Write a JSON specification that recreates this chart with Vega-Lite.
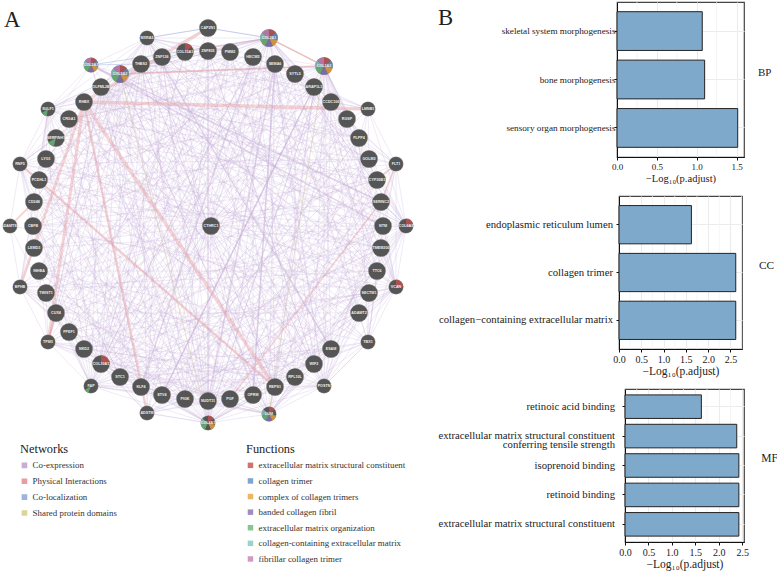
{"$schema":"https://vega.github.io/schema/vega-lite/v6.json","padding":{"left":0,"top":1,"right":0,"bottom":0},"background":"white","config":{"font":"Liberation Serif"},"datasets":{"nodes":[{"id":0,"name":"CAP2N1","x":208,"y":27,"g":"L"},{"id":1,"name":"ZNF835","x":208,"y":50,"g":"L"},{"id":2,"name":"PMM2","x":230,"y":51,"g":"L"},{"id":3,"name":"HECW2","x":253,"y":56,"g":"L"},{"id":4,"name":"COL3A1","x":269,"y":37,"g":"L"},{"id":5,"name":"SEMA6","x":275,"y":63,"g":"L"},{"id":6,"name":"SYTL5","x":295,"y":73,"g":"L"},{"id":7,"name":"ARAP1L1","x":314,"y":86,"g":"L"},{"id":8,"name":"COL1A2","x":324,"y":65,"g":"L"},{"id":9,"name":"CCDC106","x":331,"y":101,"g":"L"},{"id":10,"name":"RGSP","x":347,"y":118,"g":"L"},{"id":11,"name":"LMNB1","x":368,"y":108,"g":"S"},{"id":12,"name":"PLPP4","x":359,"y":137,"g":"L"},{"id":13,"name":"GOLM3","x":369,"y":158,"g":"L"},{"id":14,"name":"FLT1","x":396,"y":163,"g":"S"},{"id":15,"name":"CYP26B1","x":377,"y":179,"g":"L"},{"id":16,"name":"SERINC2","x":381,"y":201,"g":"L"},{"id":17,"name":"NTM","x":383,"y":225,"g":"L"},{"id":18,"name":"COL6A3","x":406,"y":225,"g":"S"},{"id":19,"name":"TMEM200","x":381,"y":247,"g":"L"},{"id":20,"name":"TTC6","x":377,"y":270,"g":"L"},{"id":21,"name":"VCAN","x":396,"y":286,"g":"S"},{"id":22,"name":"SECTM1","x":369,"y":292,"g":"L"},{"id":23,"name":"ADAMT2","x":359,"y":312,"g":"L"},{"id":24,"name":"TBX1","x":368,"y":341,"g":"S"},{"id":25,"name":"ESAM","x":331,"y":348,"g":"L"},{"id":26,"name":"WIF2","x":314,"y":363,"g":"L"},{"id":27,"name":"POSTN","x":324,"y":385,"g":"S"},{"id":28,"name":"RPL10L","x":295,"y":376,"g":"L"},{"id":29,"name":"REPS1","x":275,"y":386,"g":"L"},{"id":30,"name":"LUM","x":269,"y":413,"g":"S"},{"id":31,"name":"OPRM","x":253,"y":394,"g":"L"},{"id":32,"name":"PGF","x":230,"y":398,"g":"L"},{"id":33,"name":"NUDT11","x":208,"y":400,"g":"L"},{"id":34,"name":"COL4A1","x":208,"y":422,"g":"S"},{"id":35,"name":"PIGK","x":185,"y":398,"g":"L"},{"id":36,"name":"ETV4","x":162,"y":394,"g":"L"},{"id":37,"name":"ADSTM","x":147,"y":412,"g":"S"},{"id":38,"name":"KLF4","x":141,"y":386,"g":"L"},{"id":39,"name":"STC1","x":120,"y":376,"g":"L"},{"id":40,"name":"FAP","x":91,"y":385,"g":"S"},{"id":41,"name":"COL10A1","x":101,"y":363,"g":"L"},{"id":42,"name":"NKD2","x":84,"y":348,"g":"L"},{"id":43,"name":"PPEF1","x":69,"y":331,"g":"L"},{"id":44,"name":"TPM3","x":48,"y":341,"g":"S"},{"id":45,"name":"CUX4","x":56,"y":312,"g":"L"},{"id":46,"name":"TWIST1","x":46,"y":292,"g":"L"},{"id":47,"name":"BPHB","x":20,"y":286,"g":"S"},{"id":48,"name":"INHBA","x":39,"y":270,"g":"L"},{"id":49,"name":"LEMD3","x":34,"y":247,"g":"L"},{"id":50,"name":"CBFB","x":33,"y":225,"g":"L"},{"id":51,"name":"ADAMTSL","x":10,"y":225,"g":"S"},{"id":52,"name":"CD248","x":34,"y":201,"g":"L"},{"id":53,"name":"PCDHL1","x":39,"y":179,"g":"L"},{"id":54,"name":"RNF5","x":20,"y":163,"g":"S"},{"id":55,"name":"LYG1","x":46,"y":158,"g":"L"},{"id":56,"name":"SERPINH1","x":56,"y":137,"g":"L"},{"id":57,"name":"CRGA1","x":69,"y":118,"g":"L"},{"id":58,"name":"SULF1","x":48,"y":108,"g":"S"},{"id":59,"name":"RHBX","x":84,"y":101,"g":"L"},{"id":60,"name":"OLFML2B","x":101,"y":86,"g":"L"},{"id":61,"name":"COL5A3","x":91,"y":64,"g":"S"},{"id":62,"name":"COL5A2","x":120,"y":73,"g":"L"},{"id":63,"name":"THBS2","x":141,"y":63,"g":"L"},{"id":64,"name":"MXRA5","x":147,"y":37,"g":"S"},{"id":65,"name":"ZNF136","x":162,"y":56,"g":"L"},{"id":66,"name":"COL15A1","x":185,"y":51,"g":"L"},{"id":67,"name":"CTHRC1","x":211,"y":225,"g":"L"}],"funcs":[{"k":0,"f":"extracellular matrix structural constituent"},{"k":1,"f":"collagen trimer"},{"k":2,"f":"complex of collagen trimers"},{"k":3,"f":"banded collagen fibril"},{"k":4,"f":"extracellular matrix organization"},{"k":5,"f":"collagen-containing extracellular matrix"},{"k":6,"f":"fibrillar collagen trimer"}],"ce":[{"s":4,"t":[0,1,2,3,5,6,7,8,9,10,12,13,15,16,18,21,23,25,27,29,32,34,37,39,41,42,45,48,52,56,59,62,63,64,66]},{"s":8,"t":[4,6,9,10,12,13,15,16,17,18,20,21,22,23,25,26,27,30,32,34,36,39,41,43,46,49,53,57,60,62,64]},{"s":62,"t":[0,4,8,12,16,18,21,24,27,30,33,34,36,39,41,42,44,46,49,52,55,58,60,61,63,64]},{"s":34,"t":[0,1,3,6,8,10,13,16,18,21,23,25,26,27,28,29,30,31,32,33,35,36,37,38,39,40,41,42,43,45,48,50,53,56,59,61,63,65]},{"s":30,"t":[1,5,7,9,12,15,18,20,21,22,23,24,25,26,27,28,29,31,33,35,38,40,41,44,47,50,54,58,60,62,64]},{"s":40,"t":[0,2,5,7,11,14,17,19,22,25,28,31,33,36,38,39,41,42,43,45,48,51,54,57,60,63,66]},{"s":41,"t":[1,3,6,9,13,17,21,25,28,32,36,38,46,50,55,59,63,66]},{"s":27,"t":[2,5,9,11,14,16,18,19,21,23,24,25,26,28,29,31,36,39,44,48,52,57,61,65]},{"s":21,"t":[3,7,10,13,14,16,17,18,19,20,22,23,24,26,29,33,37,42,47,51,55,60,64]},{"s":18,"t":[6,9,11,13,14,15,16,17,19,20,22,24,28,31,35,38,43,49,54,58,61,65]},{"s":58,"t":[1,5,11,15,19,24,28,33,38,42,45,47,49,52,53,54,55,56,57,59,60,61,63,64]},{"s":63,"t":[1,3,7,11,15,19,23,26,29,33,37,43,46,50,53,56,60,64,65,66]},{"s":64,"t":[0,2,5,9,13,17,20,26,31,35,39,44,48,52,55,57,60,61,65,66]},{"s":47,"t":[44,45,46,48,49,50,51,52,43,42,39,35,31,28,20,15,10,3]},{"s":54,"t":[49,50,51,52,53,55,56,57,61,65,0,5,13,19,24,29,35,39,43]},{"s":44,"t":[38,40,41,42,43,45,46,48,32,26,22,16,9,2,60]},{"s":14,"t":[10,11,12,13,15,16,17,19,6,1,60,52,45,36,32]},{"s":11,"t":[7,9,10,12,13,3,1]},{"s":24,"t":[19,20,22,23,25,26,27,17,12,5,60,48,39,33]},{"s":37,"t":[33,34,35,36,38,39,41,43,31,25,20,12,2,65]},{"s":60,"t":[25,32,22,17,28,35,12,44]},{"s":65,"t":[33,39,25,20,13,29,48]},{"s":1,"t":[35,33,39,43,50,23,26,16]},{"s":2,"t":[38,35,42,45,53,20,25,29]},{"s":3,"t":[31,36,41,49,55,22,28,15]},{"s":5,"t":[31,35,38,43,46,50,26,19]},{"s":6,"t":[39,42,46,52,57,28,23]},{"s":7,"t":[33,36,45,49,56,29,20]},{"s":9,"t":[40,42,48,53,31,35]},{"s":10,"t":[35,43,50,55,28,38]},{"s":12,"t":[42,45,52,32,36,59]},{"s":13,"t":[46,53,57,33,29,38]},{"s":15,"t":[50,48,56,59,35,39,31]},{"s":16,"t":[49,50,57,42,36,28]},{"s":17,"t":[52,50,59,45,38,33,25]},{"s":19,"t":[53,52,60,46,39,35,26]},{"s":20,"t":[56,53,62,48,42,32]},{"s":22,"t":[57,55,63,50,43,33]},{"s":23,"t":[59,56,65,52,45,36]},{"s":25,"t":[59,57,66,53,46,38]},{"s":26,"t":[60,59,1,55,48,39]},{"s":28,"t":[62,56,49,42]},{"s":29,"t":[63,60,52,45]},{"s":31,"t":[65,57,49,43]},{"s":33,"t":[66,59,53,46]},{"s":35,"t":[61,55,48]},{"s":36,"t":[60,53,50]},{"s":38,"t":[59,55,49]},{"s":39,"t":[57,52,45]},{"s":67,"t":[4,34]}],"cs":[{"s":61,"t":[17,16]},{"s":5,"t":[31,33]},{"s":7,"t":[36]},{"s":64,"t":[25]},{"s":3,"t":[38]}],"pi":[{"s":59,"t":11,"w":3.5},{"s":59,"t":47,"w":2.8},{"s":59,"t":44,"w":3},{"s":59,"t":37,"w":2.5},{"s":59,"t":29,"w":3.5},{"s":54,"t":29,"w":2.5},{"s":16,"t":32,"w":1.5},{"s":0,"t":59,"w":3},{"s":51,"t":52,"w":2},{"s":62,"t":8,"w":2},{"s":4,"t":8,"w":1.5},{"s":14,"t":15,"w":1.5},{"s":14,"t":16,"w":1.5},{"s":66,"t":4,"w":1},{"s":44,"t":45,"w":2}],"cl":[{"s":61,"t":63},{"s":64,"t":0},{"s":61,"t":4},{"s":0,"t":4},{"s":62,"t":66},{"s":16,"t":18}],"sp":[{"s":4,"t":8},{"s":62,"t":34},{"s":8,"t":30}],"pieL":[{"id":4,"k":0,"a":0,"b":1},{"id":4,"k":1,"a":1,"b":2},{"id":4,"k":2,"a":2,"b":3},{"id":4,"k":3,"a":3,"b":4},{"id":4,"k":4,"a":4,"b":5},{"id":4,"k":5,"a":5,"b":6},{"id":4,"k":6,"a":6,"b":7},{"id":8,"k":0,"a":0,"b":1},{"id":8,"k":1,"a":1,"b":2},{"id":8,"k":2,"a":2,"b":3},{"id":8,"k":3,"a":3,"b":4},{"id":8,"k":4,"a":4,"b":5},{"id":8,"k":5,"a":5,"b":6},{"id":8,"k":6,"a":6,"b":7},{"id":62,"k":0,"a":0,"b":1},{"id":62,"k":1,"a":1,"b":2},{"id":62,"k":2,"a":2,"b":3},{"id":62,"k":3,"a":3,"b":4},{"id":62,"k":4,"a":4,"b":5},{"id":62,"k":5,"a":5,"b":6},{"id":62,"k":6,"a":6,"b":7},{"id":66,"k":0,"a":0,"b":1},{"id":41,"k":0,"a":0,"b":1.75},{"id":56,"k":4,"a":3.8,"b":4.7}],"pieS":[{"id":61,"k":0,"a":0,"b":1},{"id":61,"k":1,"a":1,"b":2},{"id":61,"k":2,"a":2,"b":3},{"id":61,"k":3,"a":3,"b":4},{"id":61,"k":4,"a":4,"b":5},{"id":61,"k":5,"a":5,"b":6},{"id":61,"k":6,"a":6,"b":7},{"id":30,"k":0,"a":0,"b":1},{"id":30,"k":2,"a":2,"b":3},{"id":30,"k":3,"a":3,"b":4},{"id":30,"k":4,"a":4,"b":5},{"id":30,"k":5,"a":5,"b":6},{"id":34,"k":0,"a":0,"b":1},{"id":34,"k":2,"a":2,"b":3},{"id":34,"k":4,"a":4,"b":5},{"id":34,"k":5,"a":5,"b":6},{"id":18,"k":0,"a":0,"b":1.4},{"id":18,"k":1,"a":1.4,"b":1.9},{"id":21,"k":0,"a":0,"b":1.75},{"id":40,"k":4,"a":3.9,"b":4.6},{"id":58,"k":4,"a":3.7,"b":4.6}]},"hconcat":[{"width":436,"height":571,"view":{"stroke":null},"encoding":{"x":{"field":"x","type":"quantitative","scale":{"domain":[0,436],"nice":false,"zero":false},"axis":null},"y":{"field":"y","type":"quantitative","scale":{"domain":[1,572],"reverse":true,"nice":false,"zero":false},"axis":null}},"layer":[{"data":{"name":"ce"},"transform":[{"flatten":["t"]},{"lookup":"s","from":{"data":{"name":"nodes"},"key":"id","fields":["x","y"]},"as":["x","y"]},{"lookup":"t","from":{"data":{"name":"nodes"},"key":"id","fields":["x","y"]},"as":["x2","y2"]}],"mark":{"type":"rule","strokeWidth":0.7,"strokeOpacity":0.38},"encoding":{"x2":{"field":"x2"},"y2":{"field":"y2"},"stroke":{"datum":"Co-expression","type":"nominal","scale":{"domain":["Co-expression","Physical Interactions","Co-localization","Shared protein domains"],"range":["#c6aed8","#e89da0","#9db2dd","#dcd49c"]},"legend":{"orient":"none","legendX":20,"legendY":441,"title":"Networks","titleFont":"Liberation Serif","titleFontSize":12.4,"titleFontWeight":"normal","titleColor":"#222","titlePadding":5.5,"labelFont":"Liberation Serif","labelFontSize":8.9,"labelColor":"#333","labelOffset":3.7,"symbolType":"square","symbolSize":8,"symbolStrokeWidth":2.8,"symbolOpacity":1,"rowPadding":0.9,"padding":0}}}},{"data":{"name":"cs"},"transform":[{"flatten":["t"]},{"lookup":"s","from":{"data":{"name":"nodes"},"key":"id","fields":["x","y"]},"as":["x","y"]},{"lookup":"t","from":{"data":{"name":"nodes"},"key":"id","fields":["x","y"]},"as":["x2","y2"]}],"mark":{"type":"rule","strokeWidth":1.6,"strokeOpacity":0.45},"encoding":{"x2":{"field":"x2"},"y2":{"field":"y2"},"stroke":{"datum":"Co-expression","type":"nominal"}}},{"data":{"name":"sp"},"transform":[{"lookup":"s","from":{"data":{"name":"nodes"},"key":"id","fields":["x","y"]},"as":["x","y"]},{"lookup":"t","from":{"data":{"name":"nodes"},"key":"id","fields":["x","y"]},"as":["x2","y2"]}],"mark":{"type":"rule","strokeWidth":0.8,"strokeOpacity":0.5},"encoding":{"x2":{"field":"x2"},"y2":{"field":"y2"},"stroke":{"datum":"Shared protein domains","type":"nominal"}}},{"data":{"name":"cl"},"transform":[{"lookup":"s","from":{"data":{"name":"nodes"},"key":"id","fields":["x","y"]},"as":["x","y"]},{"lookup":"t","from":{"data":{"name":"nodes"},"key":"id","fields":["x","y"]},"as":["x2","y2"]}],"mark":{"type":"rule","strokeWidth":1,"strokeOpacity":0.5},"encoding":{"x2":{"field":"x2"},"y2":{"field":"y2"},"stroke":{"datum":"Co-localization","type":"nominal"}}},{"data":{"name":"pi"},"transform":[{"lookup":"s","from":{"data":{"name":"nodes"},"key":"id","fields":["x","y"]},"as":["x","y"]},{"lookup":"t","from":{"data":{"name":"nodes"},"key":"id","fields":["x","y"]},"as":["x2","y2"]}],"mark":{"type":"rule","strokeOpacity":0.42},"encoding":{"x2":{"field":"x2"},"y2":{"field":"y2"},"stroke":{"datum":"Physical Interactions","type":"nominal"},"strokeWidth":{"field":"w","type":"quantitative","scale":{"domain":[1,3.5],"range":[1,3.5]},"legend":null}}},{"data":{"name":"nodes"},"mark":{"type":"point","filled":true,"opacity":1,"color":"#555555","stroke":"#999","strokeWidth":0.3},"encoding":{"size":{"field":"g","type":"nominal","scale":{"domain":["S","L"],"range":[213,303]},"legend":null}}},{"data":{"name":"pieL"},"transform":[{"lookup":"id","from":{"data":{"name":"nodes"},"key":"id","fields":["x","y"]}},{"lookup":"k","from":{"data":{"name":"funcs"},"key":"k","fields":["f"]}}],"mark":{"type":"arc","outerRadius":8.8,"opacity":0.8},"encoding":{"theta":{"field":"a","type":"quantitative","stack":null,"scale":{"domain":[0,7],"range":[0,6.2832]}},"theta2":{"field":"b"},"fill":{"field":"f","type":"nominal","scale":{"domain":["extracellular matrix structural constituent","collagen trimer","complex of collagen trimers","banded collagen fibril","extracellular matrix organization","collagen-containing extracellular matrix","fibrillar collagen trimer"],"range":["#c0504f","#5b8fc4","#e8a33d","#8470b8","#66b877","#86c6bd","#c77fb8"]},"legend":{"orient":"none","legendX":246,"legendY":441,"title":"Functions","titleFont":"Liberation Serif","titleFontSize":12.4,"titleFontWeight":"normal","titleColor":"#222","titlePadding":5.5,"labelFont":"Liberation Serif","labelFontSize":8.9,"labelColor":"#333","labelOffset":3.7,"labelLimit":300,"symbolType":"square","symbolSize":30,"symbolStrokeWidth":0,"symbolOpacity":1,"rowPadding":5.6,"padding":0}}}},{"data":{"name":"pieS"},"transform":[{"lookup":"id","from":{"data":{"name":"nodes"},"key":"id","fields":["x","y"]}},{"lookup":"k","from":{"data":{"name":"funcs"},"key":"k","fields":["f"]}}],"mark":{"type":"arc","outerRadius":7.4,"opacity":0.8},"encoding":{"theta":{"field":"a","type":"quantitative","stack":null,"scale":{"domain":[0,7],"range":[0,6.2832]}},"theta2":{"field":"b"},"fill":{"field":"f","type":"nominal"}}},{"data":{"name":"nodes"},"mark":{"type":"text","font":"Liberation Sans","fontSize":3.7,"fontWeight":"bold","color":"#eeeeee"},"encoding":{"text":{"field":"name"}}},{"data":{"values":[{"x":4,"y":26,"label":"A"}]},"mark":{"type":"text","fontSize":22.7,"align":"left","baseline":"alphabetic","color":"#222"},"encoding":{"text":{"field":"label"}}}]},{"vconcat":[{"hconcat":[{"width":1,"height":1,"view":{"stroke":null},"data":{"values":[{"s":1}]},"mark":{"type":"point","opacity":0,"size":0.01,"strokeWidth":0}},{"width":127,"height":155,"view":{"stroke":"#444","strokeWidth":1.2},"data":{"values":[{"term":"skeletal system morphogenesis","value":1.07},{"term":"bone morphogenesis","value":1.1},{"term":"sensory organ morphogenesis","value":1.515}]},"encoding":{"x":{"field":"value","type":"quantitative","scale":{"domain":[0,1.594],"nice":false},"axis":{"values":[0,0.5,1,1.5],"format":".1f","grid":true,"gridColor":"#ececec","gridWidth":1.1,"domainColor":"#111","tickColor":"#111","tickSize":3,"labelFontSize":9,"labelColor":"#222","labelFont":"Liberation Serif","labelPadding":2,"labelFlush":false,"title":"−Log₁₀(p.adjust)","titleFont":"Liberation Serif","titleFontSize":10.5,"titleFontWeight":"normal","titleColor":"#222","titlePadding":2}},"y":{"field":"term","type":"nominal","title":null,"scale":{"domain":["skeletal system morphogenesis","bone morphogenesis","sensory organ morphogenesis"],"paddingInner":0.2,"paddingOuter":0.2},"axis":{"grid":true,"gridColor":"#ececec","gridWidth":1.1,"domainColor":"#111","tickColor":"#111","tickSize":3,"labelFontSize":9.2,"labelColor":"#222","labelFont":"Liberation Serif","labelPadding":-1,"labelLimit":260,"minExtent":176.5}}},"layer":[{"data":{"values":[{"value":0.25,"term":"bone morphogenesis"},{"value":0.75,"term":"bone morphogenesis"},{"value":1.25,"term":"bone morphogenesis"}]},"mark":{"type":"rule","stroke":"#f1f1f1","strokeWidth":0.7},"encoding":{"y":{"value":0},"y2":{"value":155}}},{"mark":{"type":"bar","fill":"#7fa9ca","stroke":"#222","strokeWidth":1}},{"data":{"values":[{"t":"BP","value":1.769,"term":"bone morphogenesis"}]},"mark":{"type":"text","align":"left","dy":-7,"fontSize":11,"color":"#222"},"encoding":{"text":{"field":"t","type":"nominal"}}},{"data":{"values":[{"t":"B","value":-2.246,"term":"skeletal system morphogenesis"}]},"mark":{"type":"text","align":"left","dy":-13.5,"fontSize":22.7,"color":"#222"},"encoding":{"text":{"field":"t","type":"nominal"}}}]}],"spacing":0},{"hconcat":[{"width":1,"height":1,"view":{"stroke":null},"data":{"values":[{"s":1}]},"mark":{"type":"point","opacity":0,"size":0.01,"strokeWidth":0}},{"width":123,"height":153,"view":{"stroke":"#444","strokeWidth":1.2},"data":{"values":[{"term":"endoplasmic reticulum lumen","value":1.625},{"term":"collagen trimer","value":2.62},{"term":"collagen−containing extracellular matrix","value":2.62}]},"encoding":{"x":{"field":"value","type":"quantitative","scale":{"domain":[0,2.76],"nice":false},"axis":{"values":[0,0.5,1,1.5,2,2.5],"format":".1f","grid":true,"gridColor":"#ececec","gridWidth":1.1,"domainColor":"#111","tickColor":"#111","tickSize":3,"labelFontSize":10,"labelColor":"#222","labelFont":"Liberation Serif","labelPadding":2,"labelFlush":false,"title":"−Log₁₀(p.adjust)","titleFont":"Liberation Serif","titleFontSize":11.5,"titleFontWeight":"normal","titleColor":"#222","titlePadding":1}},"y":{"field":"term","type":"nominal","title":null,"scale":{"domain":["endoplasmic reticulum lumen","collagen trimer","collagen−containing extracellular matrix"],"paddingInner":0.2,"paddingOuter":0.2},"axis":{"grid":true,"gridColor":"#ececec","gridWidth":1.1,"domainColor":"#111","tickColor":"#111","tickSize":3,"labelFontSize":10.7,"labelColor":"#222","labelFont":"Liberation Serif","labelPadding":3.5,"labelLimit":260,"minExtent":180.5}}},"layer":[{"data":{"values":[{"value":0.25,"term":"collagen trimer"},{"value":0.75,"term":"collagen trimer"},{"value":1.25,"term":"collagen trimer"},{"value":1.75,"term":"collagen trimer"},{"value":2.25,"term":"collagen trimer"},{"value":2.75,"term":"collagen trimer"}]},"mark":{"type":"rule","stroke":"#f1f1f1","strokeWidth":0.7},"encoding":{"y":{"value":0},"y2":{"value":153}}},{"mark":{"type":"bar","fill":"#7fa9ca","stroke":"#222","strokeWidth":1}},{"data":{"values":[{"t":"CC","value":3.14,"term":"collagen trimer"}]},"mark":{"type":"text","align":"left","dy":-7,"fontSize":11.3,"color":"#222"},"encoding":{"text":{"field":"t","type":"nominal"}}}]}],"spacing":0},{"hconcat":[{"width":1,"height":1,"view":{"stroke":null},"data":{"values":[{"s":1}]},"mark":{"type":"point","opacity":0,"size":0.01,"strokeWidth":0}},{"width":119,"height":153,"view":{"stroke":"#444","strokeWidth":1.2},"data":{"values":[{"term":"retinoic acid binding","value":1.63},{"term":"extracellular matrix structural constituent\nconferring tensile strength","value":2.385},{"term":"isoprenoid binding","value":2.43},{"term":"retinoid binding","value":2.43},{"term":"extracellular matrix structural constituent","value":2.43}]},"encoding":{"x":{"field":"value","type":"quantitative","scale":{"domain":[0,2.54],"nice":false},"axis":{"values":[0,0.5,1,1.5,2,2.5],"format":".1f","grid":true,"gridColor":"#ececec","gridWidth":1.1,"domainColor":"#111","tickColor":"#111","tickSize":3,"labelFontSize":10,"labelColor":"#222","labelFont":"Liberation Serif","labelPadding":2,"labelFlush":false,"title":"−Log₁₀(p.adjust)","titleFont":"Liberation Serif","titleFontSize":11.5,"titleFontWeight":"normal","titleColor":"#222","titlePadding":1}},"y":{"field":"term","type":"nominal","title":null,"scale":{"domain":["retinoic acid binding","extracellular matrix structural constituent\nconferring tensile strength","isoprenoid binding","retinoid binding","extracellular matrix structural constituent"],"paddingInner":0.2,"paddingOuter":0.2},"axis":{"grid":true,"gridColor":"#ececec","gridWidth":1.1,"domainColor":"#111","tickColor":"#111","tickSize":3,"labelFontSize":10.7,"labelColor":"#222","labelFont":"Liberation Serif","labelPadding":7.5,"labelLimit":260,"labelLineHeight":9,"labelExpr":"split(datum.label,'\\n')","minExtent":184.5}}},"layer":[{"data":{"values":[{"value":0.25,"term":"isoprenoid binding"},{"value":0.75,"term":"isoprenoid binding"},{"value":1.25,"term":"isoprenoid binding"},{"value":1.75,"term":"isoprenoid binding"},{"value":2.25,"term":"isoprenoid binding"}]},"mark":{"type":"rule","stroke":"#f1f1f1","strokeWidth":0.7},"encoding":{"y":{"value":0},"y2":{"value":153}}},{"mark":{"type":"bar","fill":"#7fa9ca","stroke":"#222","strokeWidth":1}},{"data":{"values":[{"t":"MF","value":2.91,"term":"isoprenoid binding"}]},"mark":{"type":"text","align":"left","dy":-7,"fontSize":11.5,"color":"#222"},"encoding":{"text":{"field":"t","type":"nominal"}}}]}],"spacing":0}],"spacing":10}],"spacing":0}
